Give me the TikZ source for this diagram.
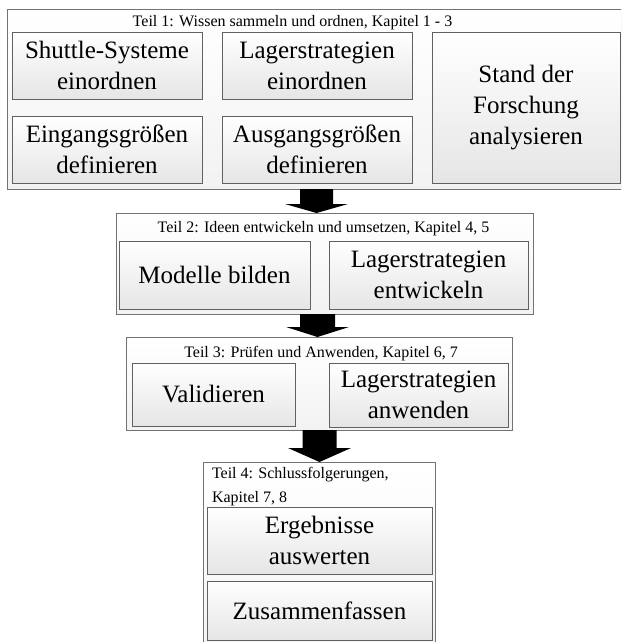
\documentclass[tikz,border=0pt]{standalone}
\usepackage{fontspec}
\setmainfont{Liberation Serif}
\usetikzlibrary{shadows,calc}
\tikzset{
  outerbox/.style={draw=black!55, line width=0.9pt, top color=white, bottom color=black!5,
    inner sep=0pt, outer sep=0pt,
    drop shadow={shadow xshift=1.3pt, shadow yshift=-1.3pt, fill=black!40, opacity=0.7}},
  innerbox/.style={draw=black!62, line width=0.9pt, top color=white, bottom color=black!10,
    inner sep=0pt, outer sep=0pt, align=center, font=\fontsize{25}{31}\selectfont,
    drop shadow={shadow xshift=1.1pt, shadow yshift=-1.1pt, fill=black!35, opacity=0.6}},
  header/.style={inner sep=0pt, outer sep=0pt, font=\fontsize{16}{24}\selectfont},
  blockarrow/.style={fill=black}
}
% #1 from node, #2 to node, #3 x-coordinate name, #4 half shaft, #5 half head, #6 head length
\newcommand\blockarr[6]{%
  \fill[blockarrow] ($(#3 |- #1.south)+(-#4,0)$) -- ($(#3 |- #2.north)+(-#4,-#6)$)
    -- ($(#3 |- #2.north)+(-#5,-#6)$) -- (#3 |- #2.north)
    -- ($(#3 |- #2.north)+(#5,-#6)$) -- ($(#3 |- #2.north)+(#4,-#6)$)
    -- ($(#3 |- #1.south)+(#4,0)$) -- cycle;}
\begin{document}
\begin{tikzpicture}[x=1pt,y=-1pt]
\useasboundingbox (0,0) rectangle (621,642);
\clip (0,0) rectangle (621,642);

% Teil 1
\node[outerbox, minimum width=623pt, minimum height=180pt] (t1) at (318.5,99) {};
\node[header, anchor=base] (h1) at (292.5,27) {Teil 1: Wissen sammeln und ordnen, Kapitel 1 - 3};
\node[innerbox, minimum width=190pt, minimum height=67pt] (s1) at (107,65.5) {Shuttle-Systeme\\einordnen};
\node[innerbox, minimum width=190pt, minimum height=67pt] (l1) at (317,65.5) {Lagerstrategien\\einordnen};
\node[innerbox, minimum width=190pt, minimum height=67pt] (e1) at (107,149.5) {Eingangsgrößen\\definieren};
\node[innerbox, minimum width=190pt, minimum height=67pt] (a1) at (317,149.5) {Ausgangsgrößen\\definieren};
\node[innerbox, minimum width=188pt, minimum height=151pt] (st) at (526,107.5) {Stand der\\Forschung\\analysieren};

% Teil 2
\node[outerbox, minimum width=417pt, minimum height=101pt] (t2) at (324.5,263.5) {};
\node[header, anchor=base] (h2) at (323.5,232) {Teil 2: Ideen entwickeln und umsetzen, Kapitel 4, 5};
\node[innerbox, minimum width=191pt, minimum height=68pt] (m2) at (214.5,275) {Modelle bilden};
\node[innerbox, minimum width=199pt, minimum height=68pt] (l2) at (428.5,275) {Lagerstrategien\\entwickeln};

% Teil 3
\node[outerbox, minimum width=386pt, minimum height=93pt] (t3) at (319,383.5) {};
\node[header, anchor=base] (h3) at (321,357) {Teil 3: Prüfen und Anwenden, Kapitel 6, 7};
\node[innerbox, minimum width=163pt, minimum height=63pt] (v3) at (213.5,394.5) {Validieren};
\node[innerbox, minimum width=179pt, minimum height=64pt] (l3) at (418.5,395) {Lagerstrategien\\anwenden};

% Teil 4
\node[outerbox, minimum width=232pt, minimum height=198pt] (t4) at (319,561) {};
\node[header, anchor=north west, align=left] (h4) at (212,467) {Teil 4: Schlussfolgerungen,\\Kapitel 7, 8};
\node[innerbox, minimum width=225pt, minimum height=67pt] (r4) at (319.5,540.5) {Ergebnisse\\auswerten};
\node[innerbox, minimum width=225pt, minimum height=59pt] (z4) at (319.5,610.5) {Zusammenfassen};

% arrows
\coordinate (ax1) at (316.5,0);
\coordinate (ax2) at (317.5,0);
\coordinate (ax3) at (319.5,0);
\blockarr{t1}{t2}{ax1}{16.5}{31.5}{9}
\blockarr{t2}{t3}{ax2}{17.5}{31.5}{10}
\blockarr{t3}{t4}{ax3}{17}{31.5}{14}
\end{tikzpicture}
\end{document}
